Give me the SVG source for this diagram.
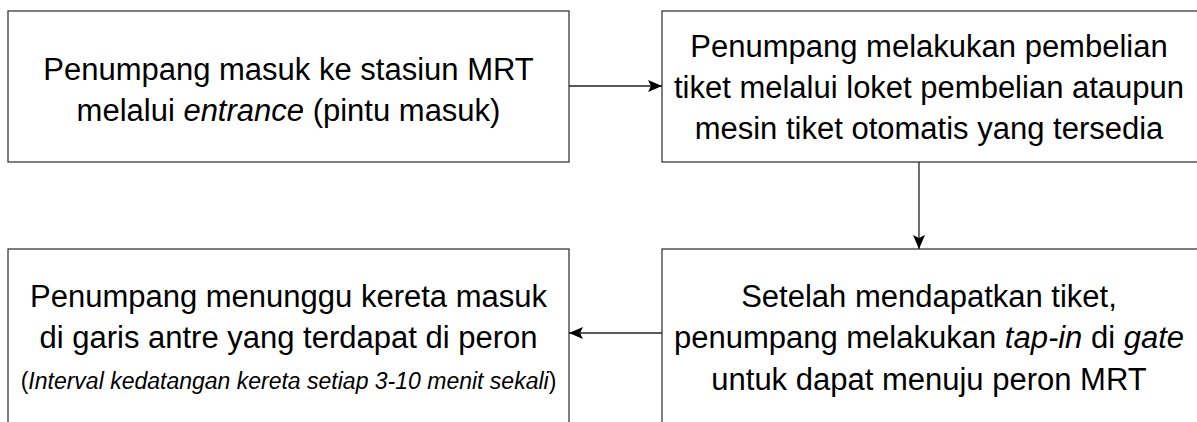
<svg xmlns="http://www.w3.org/2000/svg" width="1197" height="422" viewBox="0 0 1197 422">
  <style>
    .box { fill: #ffffff; stroke: #3a3a3a; stroke-width: 1.3; }
    .lbl { font-family: "Liberation Sans", Arial, sans-serif; font-size: 31px; fill: #000000; text-anchor: middle; }
    .note { font-size: 23px; }
    .it { font-style: italic; }
    .link { stroke: #222222; stroke-width: 1.3; fill: none; marker-end: url(#arrow); }
  </style>
  <defs>
    <marker id="arrow" markerUnits="userSpaceOnUse" markerWidth="14" markerHeight="14" viewBox="0 0 14 14" refX="14" refY="7" orient="auto">
      <path d="M0,1 L14,7 L0,13 L3,7 Z" fill="#000000"/>
    </marker>
  </defs>
  <rect width="1197" height="422" fill="#ffffff"/>

  <!-- step 1: entering the station -->
  <g id="node-entrance">
    <rect class="box" x="8" y="11" width="561" height="151"/>
    <text class="lbl" x="288.5" y="80">Penumpang masuk ke stasiun MRT</text>
    <text class="lbl" x="288.5" y="121">melalui <tspan class="it">entrance</tspan> (pintu masuk)</text>
  </g>

  <!-- step 2: buying a ticket -->
  <g id="node-ticket">
    <rect class="box" x="662" y="11" width="540" height="151"/>
    <text class="lbl" x="929" y="57">Penumpang melakukan pembelian</text>
    <text class="lbl" x="929" y="98">tiket melalui loket pembelian ataupun</text>
    <text class="lbl" x="929" y="139">mesin tiket otomatis yang tersedia</text>
  </g>

  <!-- step 3: tap-in at the gate -->
  <g id="node-gate">
    <rect class="box" x="662" y="249" width="540" height="200"/>
    <text class="lbl" x="929" y="307">Setelah mendapatkan tiket,</text>
    <text class="lbl" x="929" y="348">penumpang melakukan <tspan class="it">tap-in</tspan> di <tspan class="it">gate</tspan></text>
    <text class="lbl" x="929" y="390">untuk dapat menuju peron MRT</text>
  </g>

  <!-- step 4: waiting on the platform -->
  <g id="node-platform">
    <rect class="box" x="8" y="249" width="561" height="200"/>
    <text class="lbl" x="288.5" y="307">Penumpang menunggu kereta masuk</text>
    <text class="lbl" x="288.5" y="348">di garis antre yang terdapat di peron</text>
    <text class="lbl note" x="288.5" y="389">(<tspan class="it">Interval kedatangan kereta setiap 3-10 menit sekali</tspan>)</text>
  </g>

  <!-- flow connectors -->
  <g id="connectors">
    <line class="link" x1="569" y1="86" x2="662" y2="86"/>
    <line class="link" x1="919" y1="162" x2="919" y2="249"/>
    <line class="link" x1="662" y1="333" x2="569" y2="333"/>
  </g>
</svg>
